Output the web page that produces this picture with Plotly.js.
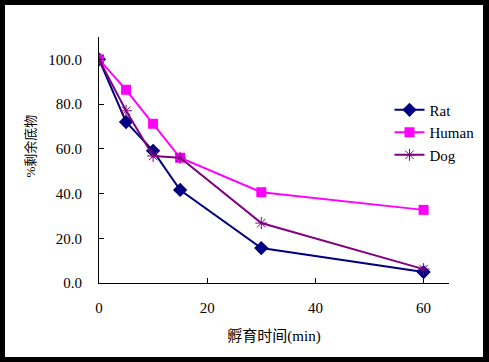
<!DOCTYPE html>
<html><head><meta charset="utf-8">
<script src="https://cdn.plot.ly/plotly-3.0.1.min.js"></script>
<style>
html,body{margin:0;padding:0;background:#000;width:489px;height:362px;overflow:hidden;}
#chart{position:absolute;left:5px;top:5px;width:478px;height:352px;background:#fff;}
</style></head>
<body><div id="chart"></div>
<script>
const times = [0, 5, 10, 15, 30, 60];
const ratValues = [100, 72.0, 59.1, 41.6, 15.6, 4.9];
const humanValues = [100, 86.4, 71.2, 56.0, 40.6, 32.7];
const dogValues = [100, 77.0, 56.8, 56.0, 26.8, 6.2];
const seriesNames = ['Rat', 'Human', 'Dog'];
const xTicks = [0, 20, 40, 60];
const yTicks = [0, 20, 40, 60, 80, 100];
const yTickText = ['0.0', '20.0', '40.0', '60.0', '80.0', '100.0'];
const xTitle = '孵育时间(min)';
const yTitle = '%剩余底物';

const serif = 'Liberation Serif';
const cjk = 'Liberation Serif, Noto Sans CJK SC';
const traces = [
  {x: times, y: ratValues, name: seriesNames[0], mode: 'lines+markers',
   line: {color: '#000080', width: 2}, marker: {symbol: 'diamond', size: 11, color: '#000080'}},
  {x: times, y: humanValues, name: seriesNames[1], mode: 'lines+markers',
   line: {color: '#FF00FF', width: 2}, marker: {symbol: 'square', size: 10, color: '#FF00FF'}},
  {x: times, y: dogValues, name: seriesNames[2], mode: 'lines+markers',
   line: {color: '#800080', width: 2}, marker: {symbol: 'asterisk-open', size: 10, line: {color: '#800080', width: 1}}}
];
const layout = {
  width: 478, height: 352,
  margin: {l: 94, r: 34, t: 32, b: 74, autoexpand: false},
  paper_bgcolor: '#fff', plot_bgcolor: '#fff',
  showlegend: true,
  legend: {x: 0.83, y: 0.77, xanchor: 'left', yanchor: 'top', bgcolor: 'rgba(0,0,0,0)',
           font: {family: serif, size: 15, color: '#000'}, tracegroupgap: 0},
  xaxis: {range: [0, 64.7], tickvals: xTicks, ticks: 'inside', ticklen: 5, tickcolor: '#000',
          showline: true, linecolor: '#000', linewidth: 1, showgrid: false, zeroline: false,
          ticklabelstandoff: 11, automargin: false,
          tickfont: {family: serif, size: 15, color: '#000'},
          title: {text: xTitle, font: {family: cjk, size: 15, color: '#000'}, standoff: 15}},
  yaxis: {range: [0, 110], tickvals: yTicks, ticktext: yTickText, ticks: 'inside', ticklen: 5, tickcolor: '#000',
          showline: true, linecolor: '#000', linewidth: 1, showgrid: false, zeroline: false,
          ticklabelstandoff: 13, automargin: false,
          tickfont: {family: serif, size: 15, color: '#000'}},
  annotations: [{text: yTitle, xref: 'paper', yref: 'paper', x: -0.197, y: 0.555,
                 xanchor: 'center', yanchor: 'middle', textangle: -90, showarrow: false,
                 font: {family: cjk, size: 13, color: '#000'}}]
};
Plotly.newPlot('chart', traces, layout, {displayModeBar: false, staticPlot: true});
</script></body></html>
